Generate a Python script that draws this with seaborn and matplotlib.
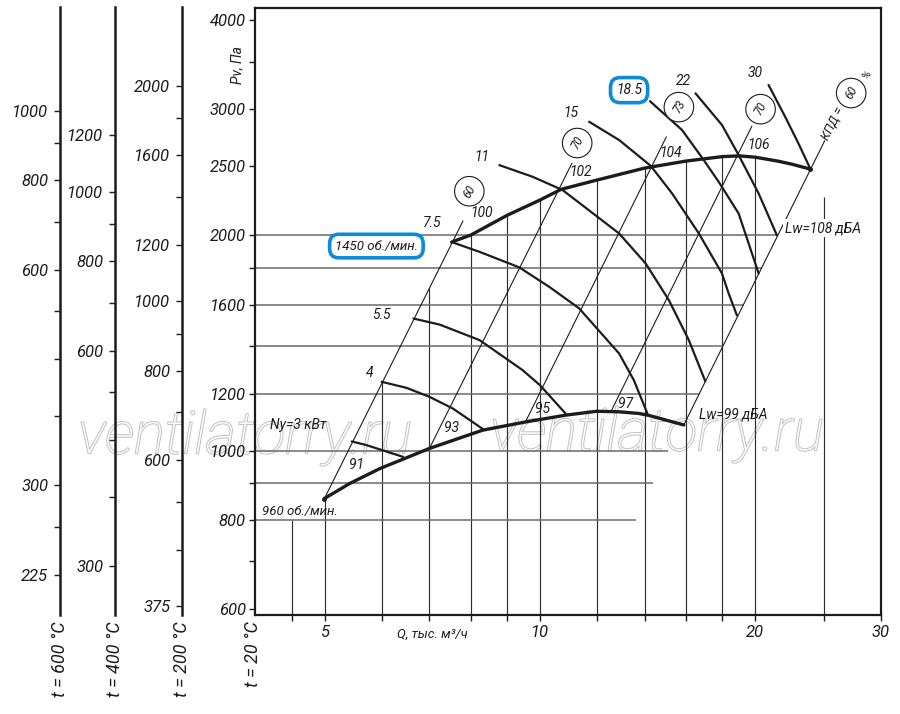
import matplotlib
matplotlib.use("Agg")
import matplotlib.pyplot as plt
import matplotlib.patheffects as pe
from matplotlib.ticker import NullLocator
import seaborn as sns

# Q - thousand m3/h, Pv - Pa

# speed curves
q_1450 = [7.52, 8.0, 9.0, 10.0, 10.7, 12.0, 14.0, 16.0, 18.0, 19.0, 20.0, 21.5, 22.5, 23.9]
p_1450 = [1957, 2002, 2134, 2241, 2319, 2389, 2483, 2540, 2577, 2583, 2572, 2540, 2515, 2475]
q_960 = [4.99, 5.42, 5.97, 7.0, 8.31, 9.56, 10.87, 12.0, 12.9, 13.75, 14.2, 15.89]
p_960 = [857, 900, 944, 1007, 1068, 1097, 1121, 1135, 1133, 1127, 1120, 1086]

# installed power curves, kW
q_n3 = [5.45, 5.71, 6.02, 6.43]
p_n3 = [1030, 1018, 1001, 980]
q_n4 = [6.0, 6.5, 7.0, 7.55, 8.36]
p_n4 = [1248, 1224, 1189, 1145, 1068]
q_n55 = [6.65, 7.24, 8.23, 9.45, 10.0, 10.87]
p_n55 = [1530, 1500, 1427, 1296, 1234, 1125]
q_n75 = [7.52, 8.23, 9.35, 10.3, 11.34, 12.9, 13.53, 14.13]
p_n75 = [1957, 1896, 1804, 1694, 1581, 1367, 1254, 1127]
q_n11 = [8.77, 9.76, 10.75, 12.9, 14.05, 15.14, 16.15, 17.03]
p_n11 = [2507, 2415, 2314, 2012, 1827, 1624, 1427, 1250]
q_n15 = [11.71, 12.9, 14.28, 15.3, 16.68, 17.97, 18.36, 18.86]
p_n15 = [2883, 2718, 2502, 2289, 2012, 1769, 1659, 1545]
q_n185 = [14.25, 15.8, 16.84, 17.78, 18.96, 19.37, 20.22]
p_n185 = [3080, 2807, 2571, 2376, 2146, 2013, 1770]
q_n22 = [16.5, 17.97, 18.96, 20.22, 21.45]
p_n22 = [3159, 2853, 2590, 2289, 2000]
q_n30 = [20.88, 22.03, 22.99, 23.9]
p_n30 = [3245, 2929, 2689, 2475]

# efficiency lines (end points)
q_eff = [[4.99, 7.80], [7.0, 11.08], [9.54, 15.02], [12.56, 19.79], [15.89, 25.05]]
p_eff = [[857, 2095], [1007, 2522], [1097, 2746], [1133, 2843], [1086, 2718]]
eff_labels = ["60", "70", "73", "70", "60"]
eff_lab_q = [7.96, 11.27, 15.64, 20.35, 27.25]
eff_lab_p = [2305, 2692, 3022, 3002, 3162]

# grid lines of the nomogram
v_q = [4.5, 5, 6, 7, 8, 9, 10, 12, 14, 16, 18, 20, 25]
v_top = [800, 857, 1248, 1686, 2002, 2134, 2241, 2389, 2483, 2540, 2577, 2572, 2262]
h_p = [2000, 1800, 1600, 1400, 1200, 1000, 900, 800]
h_right = [21.56, 20.46, 19.29, 18.04, 16.70, 15.1, 14.4, 13.6]

# labels on curves
power_labels = ["Ny=3 кВт", "4", "5.5", "7.5", "11", "15", "22", "30"]
power_lab_q = [4.58, 5.77, 6.0, 7.07, 8.30, 11.04, 15.89, 20.01]
power_lab_p = [1086, 1282, 1547, 2082, 2574, 2962, 3290, 3369]
noise_labels = ["91", "93", "95", "97", "100", "102", "104", "106"]
noise_lab_q = [5.53, 7.51, 10.08, 13.18, 8.28, 11.40, 15.22, 20.22]
noise_lab_p = [954, 1074, 1145, 1161, 2148, 2454, 2604, 2674]

# axes ticks
x_ticks = [4.5, 5, 6, 7, 8, 9, 10, 12, 14, 16, 18, 20, 25, 30]
x_labels = ["", "5", "", "", "", "", "10", "", "", "", "", "20", "", "30"]
y_ticks = [4000, 3500, 3000, 2500, 2000, 1800, 1600, 1400, 1200, 1000, 900, 800, 700, 600]
y_labels = ["4000", "", "3000", "2500", "2000", "", "1600", "", "1200", "1000", "", "800", "", "600"]

# temperature scales
temps = [600, 400, 200]
t600_ticks = [1000, 900, 800, 700, 600, 525, 450, 375, 300, 262.5, 225]
t600_labels = ["1000", "", "800", "", "600", "", "", "", "300", "", "225"]
t400_ticks = [1200, 1000, 900, 800, 700, 600, 525, 450, 375, 300]
t400_labels = ["1200", "1000", "", "800", "", "600", "", "", "", "300"]
t200_ticks = [2000, 1800, 1600, 1400, 1200, 1000, 900, 800, 700, 600, 525, 450, 375]
t200_labels = ["2000", "", "1600", "", "1200", "1000", "", "800", "", "600", "", "", "375"]

sns.set_theme(style="ticks")
plt.rcParams["font.family"] = ["Roboto", "DejaVu Sans"]
plt.rcParams["font.style"] = "italic"

W, H = 900, 714
INK = "#1c1c1c"
BLUE = "#0b8bd8"


def fx(px):
    return px / W


def fy(py):
    return 1 - py / H


YLO, YHI = 589, 4158
XLO, XHI = 3.99, 30

fig = plt.figure(figsize=(9, 7.14), dpi=100)
fig.patch.set_facecolor("white")

# watermark, behind everything
for px, py in [(245, 438), (657, 435)]:
    fig.text(fx(px), fy(py), "ventilatorry.ru", ha="center", va="center",
             fontsize=42, fontweight="light", color="white", zorder=-5,
             path_effects=[pe.withStroke(linewidth=1.4, foreground="#c0c0c0")])

ax = fig.add_axes([fx(255), fy(615), fx(881) - fx(255), fy(8) - fy(615)])
ax.patch.set_visible(False)
ax.set_xscale("log")
ax.set_yscale("log")
ax.set_xlim(XLO, XHI)
ax.set_ylim(YLO, YHI)

# nomogram grid
ax.vlines(v_q, YLO, v_top, color="#2e2e2e", lw=0.85, zorder=1)
ax.hlines(h_p, XLO, h_right, color="#6a6a6a", lw=1.1, zorder=1)

# efficiency lines
for q, p in zip(q_eff, p_eff):
    sns.lineplot(x=q, y=p, ax=ax, color=INK, linewidth=0.8, sort=False,
                 estimator=None, legend=False, zorder=2)

# power curves
for q, p in [(q_n3, p_n3), (q_n4, p_n4), (q_n55, p_n55), (q_n75, p_n75),
             (q_n11, p_n11), (q_n15, p_n15), (q_n185, p_n185),
             (q_n22, p_n22), (q_n30, p_n30)]:
    sns.lineplot(x=q, y=p, ax=ax, color=INK, linewidth=1.6, sort=False,
                 estimator=None, legend=False, zorder=3)

# speed curves
for q, p in [(q_1450, p_1450), (q_960, p_960)]:
    sns.lineplot(x=q, y=p, ax=ax, color=INK, linewidth=2.4, sort=False,
                 estimator=None, legend=False, zorder=4)
ax.plot([q_960[0], q_1450[-1]], [p_960[0], p_1450[-1]], "o", ms=2.5,
        color=INK, zorder=4)

# texts on the chart
for s, q, p in zip(power_labels, power_lab_q, power_lab_p):
    ax.text(q, p, s, ha="center", va="center", fontsize=10, color=INK, zorder=5)
for s, q, p in zip(noise_labels, noise_lab_q, noise_lab_p):
    ax.text(q, p, s, ha="center", va="center", fontsize=10, color=INK, zorder=5)
for s, q, p in zip(eff_labels, eff_lab_q, eff_lab_p):
    ax.text(q, p, s, ha="center", va="center", fontsize=8.5, color=INK,
            rotation=60, zorder=5,
            bbox=dict(boxstyle="circle,pad=0.7", fc="white", ec=INK, lw=0.8))
ax.text(25.66, 2870, "КПД =", ha="center", va="center", fontsize=9,
        rotation=63, color=INK, zorder=5,
        bbox=dict(boxstyle="square,pad=0.1", fc="white", ec="none"))
ax.text(28.7, 3360, "%", ha="center", va="center", fontsize=8,
        rotation=63, color=INK, zorder=5)

box = dict(boxstyle="round,pad=0.4,rounding_size=0.7", fc="white", ec=BLUE, lw=2.6)
ax.text(5.90, 1932, "1450 об./мин.", ha="center", va="center", fontsize=9.5,
        color=INK, zorder=6, bbox=box)
ax.text(13.32, 3192, "18.5", ha="center", va="center", fontsize=10,
        color=INK, zorder=6, bbox=box)
ax.text(4.08, 823, "960 об./мин.", ha="left", va="center", fontsize=9.5,
        color=INK, zorder=5)
ax.text(22.05, 2046, "Lw=108 дБА", ha="left", va="center", fontsize=10,
        color=INK, zorder=5,
        bbox=dict(boxstyle="square,pad=0.15", fc="white", ec="none"))
ax.text(16.68, 1125, "Lw=99 дБА", ha="left", va="center", fontsize=10,
        color=INK, zorder=5)

# axes, ticks
ax.xaxis.set_minor_locator(NullLocator())
ax.yaxis.set_minor_locator(NullLocator())
ax.set_xticks(x_ticks, x_labels)
ax.set_yticks(y_ticks, y_labels)
ax.tick_params(axis="both", which="major", direction="out", length=4.5,
               width=1, color=INK, labelcolor=INK, labelsize=12)
ax.tick_params(axis="x", pad=3)
ax.tick_params(axis="y", pad=2)
for sp in ax.spines.values():
    sp.set_linewidth(1.6)
    sp.set_color(INK)

# temperature scales on the left
for t, px, ticks, labels in zip(temps, [60, 115, 182],
                                [t600_ticks, t400_ticks, t200_ticks],
                                [t600_labels, t400_labels, t200_labels]):
    k = 293 / (273 + t)
    tax = fig.add_axes([fx(px), fy(615), 0.0001, fy(7) - fy(615)])
    tax.set_yscale("log")
    tax.set_ylim(YLO * k, YHI * k)
    tax.yaxis.set_minor_locator(NullLocator())
    tax.set_yticks(ticks, labels)
    tax.set_xticks([])
    tax.patch.set_visible(False)
    for side in ["top", "right", "bottom"]:
        tax.spines[side].set_visible(False)
    tax.spines["left"].set_linewidth(1.8)
    tax.spines["left"].set_color(INK)
    tax.tick_params(axis="y", direction="out", length=4.5, width=1,
                    color=INK, labelcolor=INK, labelsize=12, pad=4)

for t, px in zip(temps + [20], [60, 115, 182, 253]):
    fig.text(fx(px), fy(621), f"t = {t} °C", rotation=90, ha="center",
             va="top", fontsize=13, color=INK)

fig.text(fx(237), fy(65), "Pv, Па", rotation=90, ha="center", va="center",
         fontsize=10, color=INK)
fig.text(fx(432), fy(634), "Q, тыс. м³/ч", ha="center", va="center",
         fontsize=9.5, color=INK)

fig.savefig("out.png", dpi=100)
